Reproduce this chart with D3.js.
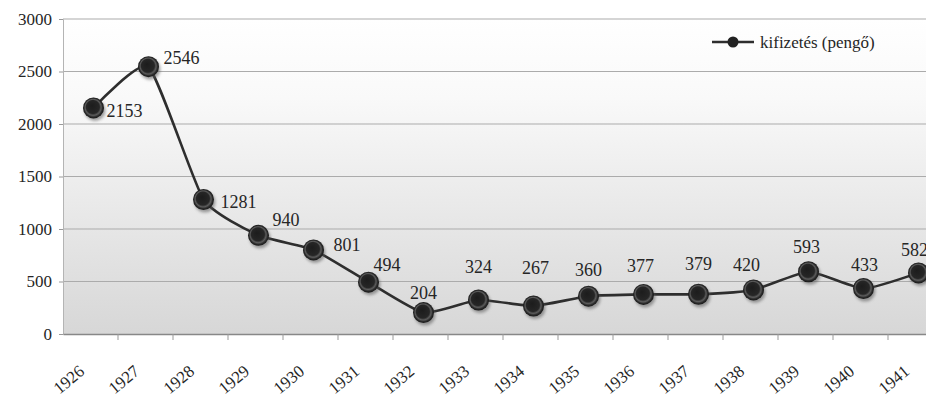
<!DOCTYPE html>
<html>
<head>
<meta charset="utf-8">
<script src="https://cdn.jsdelivr.net/npm/d3@7"></script>
<style>
  html, body { margin: 0; padding: 0; background: #fff; overflow: hidden; }
  svg { display: block; }
</style>
</head>
<body>
<svg id="chart" width="926" height="399"></svg>
<script>
// Payments per year, in pengő
const years = ["1926","1927","1928","1929","1930","1931","1932","1933","1934","1935","1936","1937","1938","1939","1940","1941"];
const payments = [2153, 2546, 1281, 940, 801, 494, 204, 324, 267, 360, 377, 379, 420, 593, 433, 582];
const yTicks = [0, 500, 1000, 1500, 2000, 2500, 3000];
const seriesName = "kifizetés (pengő)";

// Value label placement around each marker: [dx, dy, anchor]
const labelNudge = [
  [13, 3, "start"], [15, -9, "start"], [17, 2, "start"], [14, -16, "start"],
  [20, -5, "start"], [5, -17, "start"], [0, -20, "middle"], [0, -33, "middle"],
  [2, -38, "middle"], [0, -27, "middle"], [-3, -29, "middle"], [0, -31, "middle"],
  [-7, -25, "middle"], [-2, -25, "middle"], [1, -24, "middle"], [-4, -23, "middle"]
];

const FONT = "'Liberation Serif'";
const INK = "#262626";

const svg = d3.select("#chart");
const plot = { left: 63, top: 19, bottom: 334, step: 55 };
const plotRight = plot.left + plot.step * years.length;

const x = d3.scaleBand().domain(years).range([plot.left, plotRight]).padding(0);
const y = d3.scaleLinear().domain([0, 3000]).range([plot.bottom, plot.top]);
const cx = d => x(d) + x.bandwidth() / 2 + 3;

const defs = svg.append("defs");
const bg = defs.append("linearGradient").attr("id", "plotBg")
  .attr("x1", 0).attr("y1", 0).attr("x2", 0).attr("y2", 1);
bg.append("stop").attr("offset", "0%").attr("stop-color", "#ffffff");
bg.append("stop").attr("offset", "25%").attr("stop-color", "#f9f9f9");
bg.append("stop").attr("offset", "60%").attr("stop-color", "#e9e9e9");
bg.append("stop").attr("offset", "100%").attr("stop-color", "#d7d7d7");

const mk = defs.append("radialGradient").attr("id", "markerFill")
  .attr("cx", "50%").attr("cy", "50%").attr("r", "50%")
  .attr("fx", "42%").attr("fy", "38%");
mk.append("stop").attr("offset", "0%").attr("stop-color", "#1c1c1c");
mk.append("stop").attr("offset", "62%").attr("stop-color", "#262626");
mk.append("stop").attr("offset", "76%").attr("stop-color", "#5c5c5c");
mk.append("stop").attr("offset", "88%").attr("stop-color", "#2c2c2c");
mk.append("stop").attr("offset", "100%").attr("stop-color", "#161616");

const shadow = defs.append("filter").attr("id", "soft")
  .attr("x", "-50%").attr("y", "-50%").attr("width", "200%").attr("height", "200%");
shadow.append("feGaussianBlur").attr("stdDeviation", 1.5);

// Plot area
svg.append("rect")
  .attr("x", plot.left).attr("y", plot.top)
  .attr("width", plotRight - plot.left).attr("height", plot.bottom - plot.top)
  .attr("fill", "url(#plotBg)");

// Horizontal gridlines
svg.append("g").selectAll("line").data(yTicks.filter(t => t > 0)).join("line")
  .attr("x1", plot.left).attr("x2", plotRight)
  .attr("y1", d => y(d)).attr("y2", d => y(d))
  .attr("stroke", "#ababab").attr("stroke-width", 1);

// Y axis
const yAxis = svg.append("g").attr("transform", `translate(${plot.left},0)`)
  .call(d3.axisLeft(y).tickValues(yTicks).tickSize(4).tickPadding(7).tickFormat(d3.format("d")));
yAxis.select(".domain").attr("stroke", "#b4b4b4");
yAxis.selectAll(".tick line").attr("stroke", "#999");
yAxis.selectAll("text").attr("font-size", 17).attr("fill", INK)
  .style("font-family", FONT);

// X axis
const xAxis = svg.append("g").attr("transform", `translate(0,${plot.bottom})`)
  .call(d3.axisBottom(x).tickSize(0).tickFormat(""));
xAxis.select(".domain").attr("stroke", "#888").attr("stroke-width", 1.5);
svg.append("g").selectAll("line").data(years).join("line")
  .attr("x1", d => x(d) + x.bandwidth()).attr("x2", d => x(d) + x.bandwidth())
  .attr("y1", plot.bottom).attr("y2", plot.bottom + 6)
  .attr("stroke", "#999");
svg.append("g").selectAll("text").data(years).join("text")
  .attr("transform", d => `translate(${x(d) + x.bandwidth() / 2 - 5},${plot.bottom + 39}) rotate(-40)`)
  .attr("text-anchor", "end")
  .attr("font-size", 17).attr("fill", INK)
  .style("font-family", FONT)
  .text(d => d);

// Series line
const pts = years.map((yr, i) => [cx(yr), y(payments[i])]);
svg.append("path")
  .attr("d", d3.line().curve(d3.curveCardinal.tension(0.5))(pts))
  .attr("fill", "none").attr("stroke", "#2e2e2e").attr("stroke-width", 2.6);

// Markers
const mg = svg.append("g");
mg.selectAll("circle.sh").data(years).join("circle").attr("class", "sh")
  .attr("cx", (d) => cx(d) + 1.5).attr("cy", (d, i) => y(payments[i]) + 2.5)
  .attr("r", 10.5).attr("fill", "#555").attr("opacity", 0.55).attr("filter", "url(#soft)");
mg.selectAll("circle.m").data(years).join("circle").attr("class", "m")
  .attr("cx", d => cx(d)).attr("cy", (d, i) => y(payments[i]))
  .attr("r", 10.5).attr("fill", "url(#markerFill)");

// Value labels
svg.append("g").selectAll("text").data(years).join("text")
  .attr("x", (d, i) => cx(d) + labelNudge[i][0])
  .attr("y", (d, i) => y(payments[i]) + labelNudge[i][1])
  .attr("dy", "0.35em")
  .attr("text-anchor", (d, i) => labelNudge[i][2])
  .attr("font-size", 18).attr("fill", INK)
  .style("font-family", FONT)
  .text((d, i) => payments[i]);

// Legend
const lg = svg.append("g").attr("transform", "translate(712,42)");
lg.append("line").attr("x1", 0).attr("x2", 42).attr("y1", 0).attr("y2", 0)
  .attr("stroke", "#2e2e2e").attr("stroke-width", 2.6);
lg.append("circle").attr("cx", 21).attr("cy", 0).attr("r", 5.5).attr("fill", "#222");
lg.append("text").attr("x", 48).attr("y", 0).attr("dy", "0.35em")
  .attr("font-size", 17).attr("fill", INK)
  .style("font-family", FONT)
  .text(seriesName);
</script>
</body>
</html>
